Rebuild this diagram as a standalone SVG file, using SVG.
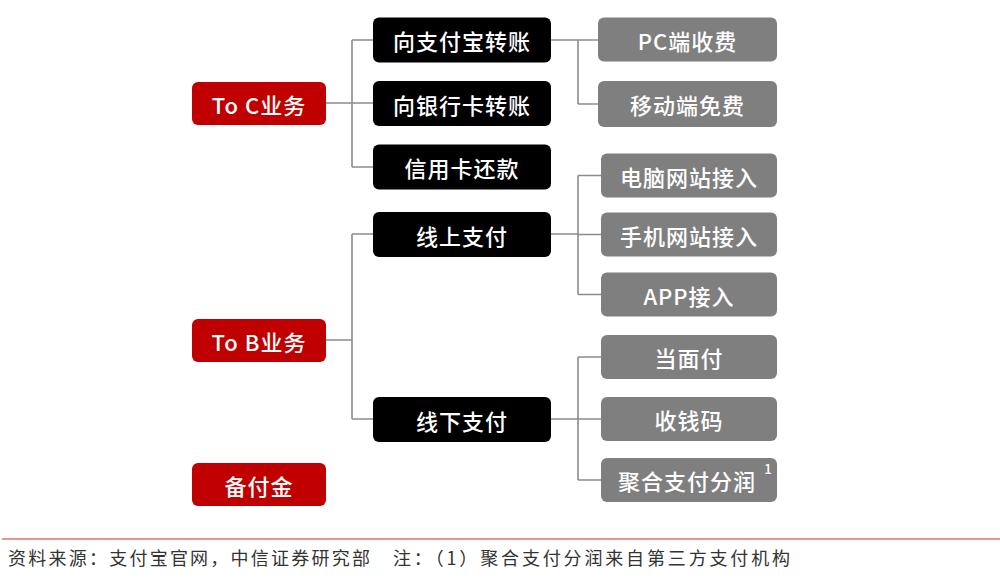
<svg xmlns="http://www.w3.org/2000/svg" width="1000" height="581" viewBox="0 0 1000 581">
<style>
.t{font-family:"Noto Sans CJK SC","Noto Sans",sans-serif;font-size:22px;font-weight:500;letter-spacing:1px;fill:#fff;text-anchor:middle;dominant-baseline:central}
.red{fill:#c00000}
.blk{fill:#000}
.gry{fill:#7f7f7f}
.conn{fill:none;stroke:#8c8c8c;stroke-width:1.6}
.foot{font-family:"Noto Sans CJK SC","Noto Sans",sans-serif;font-size:18px;fill:#333}
</style>
<rect width="1000" height="581" fill="#fff"/>
<g id="connectors" class="conn">
<path d="M326 103H352M352 40V167M352 40H373M352 103H373M352 167H373"/>
<path d="M551 40H578M578 40V104M578 40H598M578 104H598"/>
<path d="M326 340H352M352 234V419M352 234H373M352 419H373"/>
<path d="M551 234H578M578 175.5V294.5M578 175.5H601M578 234.5H601M578 294.5H601"/>
<path d="M551 419H578M578 357V480M578 357H601M578 419H601M578 480H601"/>
</g>
<g id="toC"><rect class="red" x="192" y="82" width="134" height="43" rx="6"/><text class="t" x="259" y="103.5">To C业务</text></g>
<g id="toB"><rect class="red" x="192" y="319" width="134" height="43" rx="6"/><text class="t" x="259" y="340.5">To B业务</text></g>
<g id="beifujin"><rect class="red" x="192" y="463" width="134" height="43" rx="6"/><text class="t" x="259" y="484.5">备付金</text></g>
<g id="zfb"><rect class="blk" x="373" y="17.5" width="178" height="45" rx="6"/><text class="t" x="462" y="40">向支付宝转账</text></g>
<g id="yhk"><rect class="blk" x="373" y="81" width="178" height="45" rx="6"/><text class="t" x="462" y="103.5">向银行卡转账</text></g>
<g id="xyk"><rect class="blk" x="373" y="144.5" width="178" height="45" rx="6"/><text class="t" x="462" y="167">信用卡还款</text></g>
<g id="xszf"><rect class="blk" x="373" y="212" width="178" height="45" rx="6"/><text class="t" x="462" y="234.5">线上支付</text></g>
<g id="xxzf"><rect class="blk" x="373" y="397" width="178" height="45" rx="6"/><text class="t" x="462" y="419.5">线下支付</text></g>
<g id="pc"><rect class="gry" x="598" y="17.5" width="179" height="44" rx="6"/><text class="t" x="687.5" y="39.5">PC端收费</text></g>
<g id="ydd"><rect class="gry" x="598" y="81" width="179" height="46" rx="6"/><text class="t" x="687.5" y="104">移动端免费</text></g>
<g id="dnwz"><rect class="gry" x="601" y="153.5" width="176" height="44" rx="6"/><text class="t" x="689" y="175.5">电脑网站接入</text></g>
<g id="sjwz"><rect class="gry" x="601" y="212.5" width="176" height="44" rx="6"/><text class="t" x="689" y="234.5">手机网站接入</text></g>
<g id="app"><rect class="gry" x="601" y="272.5" width="176" height="44" rx="6"/><text class="t" x="689" y="294.5">APP接入</text></g>
<g id="dmf"><rect class="gry" x="601" y="335" width="176" height="44" rx="6"/><text class="t" x="689" y="357">当面付</text></g>
<g id="sqm"><rect class="gry" x="601" y="397" width="176" height="44" rx="6"/><text class="t" x="689" y="419">收钱码</text></g>
<g id="jhzf"><rect class="gry" x="601" y="458" width="176" height="44" rx="6"/><text class="t" x="687" y="480">聚合支付分润</text><text class="t" x="768.5" y="468" style="font-size:13px">1</text></g>
<line x1="2" y1="539" x2="1000" y2="539" stroke="#e07070" stroke-width="1.5"/>
<text class="foot" x="8" y="565" textLength="362">资料来源：支付宝官网，中信证券研究部</text>
<text class="foot" x="393" y="565" textLength="397">注：（1）聚合支付分润来自第三方支付机构</text>
</svg>
